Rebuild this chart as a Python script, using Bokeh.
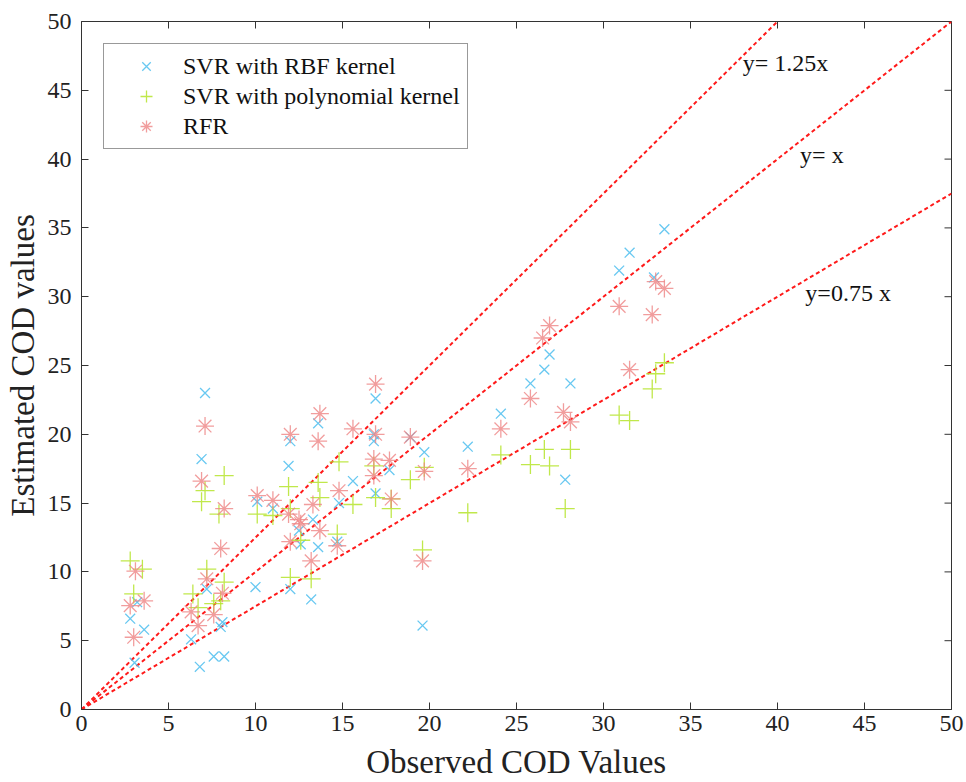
import math
from bokeh.plotting import figure
from bokeh.models import Range1d, Legend, LegendItem, Label, FixedTicker
from bokeh.embed import file_html
from bokeh.resources import INLINE

# SVR with RBF kernel (observed, estimated)
rbf_x = [33.5, 31.5, 30.9, 32.9, 26.9, 26.6, 25.8, 28.1, 27.8, 24.1, 22.2, 19.7, 17.7, 19.6,
         16.9, 13.6, 12.0, 16.8, 16.8, 18.9, 11.9, 15.6, 16.9, 14.8, 10.1, 11.0, 13.3, 12.5,
         13.6, 14.7, 12.6, 10.0, 12.0, 13.2, 7.1, 6.9, 3.2, 2.8, 3.6, 3.05, 7.2, 6.3, 8.1,
         8.0, 6.8, 7.6, 8.2]
rbf_y = [34.9, 33.2, 31.9, 31.4, 25.8, 24.7, 23.7, 23.7, 16.7, 21.5, 19.1, 18.7, 17.4, 6.1,
         22.6, 20.8, 19.5, 20.0, 19.5, 19.8, 17.7, 16.6, 15.7, 15.0, 15.1, 14.6, 13.8, 13.0,
         11.8, 12.2, 12.0, 8.9, 8.75, 8.0, 23.0, 18.2, 7.8, 6.6, 5.8, 3.4, 8.75, 5.1, 6.35,
         6.0, 3.1, 3.85, 3.85]

# SVR with polynomial kernel
poly_x = [33.5, 33.0, 32.8, 30.9, 31.5, 26.6, 25.8, 26.9, 28.1, 27.8, 18.9, 19.7, 24.1, 22.2,
          17.8, 19.6, 14.8, 16.8, 13.6, 11.9, 13.7, 15.6, 16.9, 10.1, 11.0, 12.6, 14.7, 12.0,
          13.2, 8.2, 7.1, 6.9, 7.9, 2.8, 3.5, 3.0, 7.2, 8.2, 6.4, 6.7, 7.6, 8.0, 12.0, 17.8]
poly_y = [25.2, 24.4, 23.3, 21.4, 21.0, 18.9, 17.8, 17.7, 18.9, 14.6, 16.7, 17.6, 18.5, 14.3,
          14.6, 11.6, 18.0, 17.7, 16.5, 16.2, 15.4, 14.9, 15.4, 14.2, 14.1, 12.3, 12.75, 9.6,
          9.5, 17.0, 15.9, 15.1, 14.2, 10.8, 10.2, 8.4, 10.2, 9.25, 8.4, 7.4, 7.7, 7.9, 14.6, 15.3]

# RFR
rfr_x = [26.9, 26.5, 30.9, 33.0, 33.5, 32.8, 25.8, 31.5, 27.7, 28.1, 24.1, 18.9, 22.2, 19.7,
         17.8, 19.6, 16.9, 13.7, 12.0, 13.6, 15.6, 16.9, 16.8, 17.7, 16.8, 14.8, 10.1, 11.0,
         13.3, 11.9, 12.5, 12.6, 13.7, 12.0, 14.7, 13.2, 7.1, 6.9, 8.2, 8.0, 3.1, 3.6, 2.8,
         3.0, 7.2, 8.1, 6.3, 6.7, 7.6]
rfr_y = [27.9, 27.0, 29.3, 31.1, 30.6, 28.7, 22.6, 24.7, 21.6, 20.9, 20.4, 19.8, 17.5, 17.3,
         15.3, 10.8, 23.65, 21.5, 20.0, 19.5, 20.4, 20.0, 18.2, 18.1, 17.0, 15.9, 15.55, 15.2,
         14.9, 14.2, 13.8, 13.5, 13.0, 12.2, 11.9, 10.8, 20.6, 16.6, 14.6, 11.7, 10.05, 7.9, 7.55,
         5.25, 9.5, 8.45, 7.1, 6.1, 6.9]

slopes = [1.25, 1.0, 0.75]
slope_labels = ["y= 1.25x", "y= x", "y=0.75 x"]
label_x = [38.0, 41.3, 41.6]
label_y = [47.0, 40.3, 30.3]

ticks = [0, 5, 10, 15, 20, 25, 30, 35, 40, 45, 50]

FONT = "Liberation Serif"
AX = "#333333"

p = figure(width=966, height=782, output_backend="svg", toolbar_location=None,
           x_range=Range1d(0, 50), y_range=Range1d(0, 50),
           min_border_left=81, min_border_right=15, min_border_top=21, min_border_bottom=73,
           x_axis_label="Observed COD Values", y_axis_label="Estimated COD values")
p.grid.visible = False
p.outline_line_color = AX
p.outline_line_width = 1
p.background_fill_color = "white"
p.border_fill_color = "white"

for ax in [p.xaxis[0], p.yaxis[0]]:
    ax.ticker = FixedTicker(ticks=ticks)
    ax.major_tick_in = 7
    ax.major_tick_out = 0
    ax.minor_tick_line_color = None
    ax.axis_line_color = AX
    ax.major_tick_line_color = AX
    ax.major_label_text_font = FONT
    ax.major_label_text_font_size = "24px"
    ax.major_label_text_color = "#222222"
    ax.axis_label_text_font = FONT
    ax.axis_label_text_font_size = "33px"
    ax.axis_label_text_font_style = "normal"
    ax.axis_label_text_color = "#222222"
p.xaxis[0].major_label_standoff = 6
p.xaxis[0].axis_label_standoff = 10
p.yaxis[0].major_label_standoff = 10
p.yaxis[0].axis_label_standoff = 4

# inward ticks on the top and right edges of the box
p.ray(x=ticks, y=[50] * len(ticks), length=7, length_units="screen",
      angle=-math.pi / 2, line_color=AX, line_width=1)
p.ray(x=[50] * len(ticks), y=ticks, length=7, length_units="screen",
      angle=math.pi, line_color=AX, line_width=1)

# reference lines
for s in slopes:
    xe = min(50.0, 50.0 / s)
    p.line([0, xe], [0, s * xe], line_color="#ff1a1a", line_width=2, line_dash="4 3")

r_rbf = p.scatter(rbf_x, rbf_y, marker="x", size=14, line_color="#4DBEEE",
                  line_width=1.3, line_alpha=0.85)
r_poly = p.scatter(poly_x, poly_y, marker="cross", size=19, line_color="#B5E42C",
                   line_width=1.3, line_alpha=0.85)
r_rfr = p.scatter(rfr_x, rfr_y, marker="asterisk", size=18, line_color="#EE8585",
                  line_width=1.3, line_alpha=0.8)

for t, lx, ly in zip(slope_labels, label_x, label_y):
    p.add_layout(Label(x=lx, y=ly, text=t, text_font=FONT, text_font_size="24px",
                       text_color="#111111", text_baseline="middle", text_align="left"))

legend = Legend(items=[
    LegendItem(label="SVR with RBF kernel", renderers=[r_rbf]),
    LegendItem(label="SVR with polynomial kernel", renderers=[r_poly]),
    LegendItem(label="RFR", renderers=[r_rfr]),
], location="top_left")
legend.margin = 22
legend.padding = 7
legend.spacing = 0
legend.label_height = 30
legend.glyph_height = 30
legend.glyph_width = 70
legend.label_standoff = 2
legend.label_text_font = FONT
legend.label_text_font_size = "24px"
legend.label_text_color = "#111111"
legend.border_line_color = AX
legend.border_line_width = 1
legend.background_fill_alpha = 1
p.add_layout(legend, "center")

open("out.html", "w").write(file_html(p, INLINE))
